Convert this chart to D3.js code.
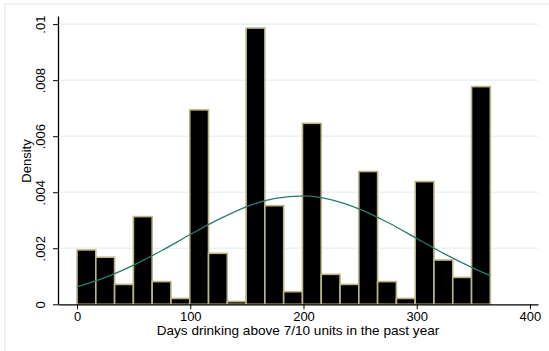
<!DOCTYPE html>
<html>
<head>
<meta charset="utf-8">
<script src="https://cdn.jsdelivr.net/npm/d3@7"></script>
<style>
  body { margin: 0; background: #fff; }
  svg { display: block; font-family: "Liberation Sans", Arial, sans-serif; }
</style>
</head>
<body>
<div id="chart"></div>
<script>
// histogram densities, 22 bins over 0..365 days
var density = [0.00194, 0.00168, 0.00071, 0.00313, 0.00081, 0.00021, 0.00694, 0.00182,
               0.00010, 0.00986, 0.00352, 0.00045, 0.00646, 0.00107, 0.00071, 0.00474,
               0.00081, 0.00021, 0.00438, 0.00158, 0.00096, 0.00777];
var binStart = 0, binEnd = 365;

// normal density overlay
var curveX = [0, 25, 50, 75, 100, 125, 150, 175, 200, 225, 250, 275, 300, 325, 350, 365];
var curveY = [0.00062, 0.00096, 0.00140, 0.00192, 0.00249, 0.00303, 0.00349, 0.00378,
              0.00387, 0.00373, 0.00339, 0.00291, 0.00235, 0.00179, 0.00129, 0.00102];

var xTicks = [0, 100, 200, 300, 400];
var yTicks = [0, 0.002, 0.004, 0.006, 0.008, 0.01];
var yTickLabels = ['0', '.002', '.004', '.006', '.008', '.01'];

var width = 549, height = 351;

var svg = d3.select('#chart').append('svg')
  .attr('width', width)
  .attr('height', height);

// faint outer frame
svg.append('rect')
  .attr('x', 5).attr('y', 4)
  .attr('width', 560).attr('height', 400)
  .attr('fill', 'none')
  .attr('stroke', '#e8f0f1')
  .attr('stroke-width', 1.5);

var x = d3.scaleLinear().domain([-16.8, 407.1]).range([58, 538]);
var y = d3.scaleLinear().domain([0, 0.01029]).range([304.3, 16]);

var binW = (binEnd - binStart) / density.length;

// gridlines
svg.append('g')
  .selectAll('line')
  .data(yTicks.slice(1))
  .enter()
  .append('line')
  .attr('x1', 58).attr('x2', 538)
  .attr('y1', function(d) { return y(d); })
  .attr('y2', function(d) { return y(d); })
  .attr('stroke', '#eaf2f3')
  .attr('stroke-width', 1.5);

// bars
svg.append('g')
  .selectAll('rect')
  .data(density)
  .enter()
  .append('rect')
  .attr('x', function(d, i) { return x(binStart + i * binW); })
  .attr('width', function(d, i) { return x(binStart + (i + 1) * binW) - x(binStart + i * binW); })
  .attr('y', function(d) { return y(d); })
  .attr('height', function(d) { return y(0) - y(d); })
  .attr('fill', '#000')
  .attr('stroke', '#bdb684')
  .attr('stroke-width', 1.6);

// normal curve
var line = d3.line()
  .x(function(d, i) { return x(curveX[i]); })
  .y(function(d) { return y(d); })
  .curve(d3.curveMonotoneX);

svg.append('path')
  .datum(curveY)
  .attr('d', line)
  .attr('fill', 'none')
  .attr('stroke', '#2a7a72')
  .attr('stroke-width', 1.3);

// x axis
var xAxis = svg.append('g')
  .attr('transform', 'translate(0,' + y(0) + ')')
  .call(d3.axisBottom(x).tickValues(xTicks).tickSize(5).tickSizeOuter(0).tickPadding(2));
xAxis.selectAll('text').attr('font-size', 13).attr('fill', '#000').attr('font-family', null);
xAxis.select('.domain').attr('stroke-width', 1.3);

// y axis
var yAxis = svg.append('g')
  .attr('transform', 'translate(58,0)')
  .call(d3.axisLeft(y).tickValues(yTicks).tickSize(5).tickSizeOuter(0)
    .tickFormat(function(d, i) { return yTickLabels[i]; }));
yAxis.selectAll('text')
  .attr('font-size', 13)
  .attr('fill', '#000')
  .attr('font-family', null)
  .attr('x', 0).attr('dy', 0)
  .attr('text-anchor', 'middle')
  .attr('transform', 'translate(-13,0) rotate(-90)');
yAxis.select('.domain').attr('stroke-width', 1.3);

// titles
svg.append('text')
  .attr('x', 298).attr('y', 335)
  .attr('text-anchor', 'middle')
  .attr('font-size', 13.6)
  .text('Days drinking above 7/10 units in the past year');

svg.append('text')
  .attr('transform', 'translate(31,161) rotate(-90)')
  .attr('text-anchor', 'middle')
  .attr('font-size', 13)
  .text('Density');
</script>
</body>
</html>
